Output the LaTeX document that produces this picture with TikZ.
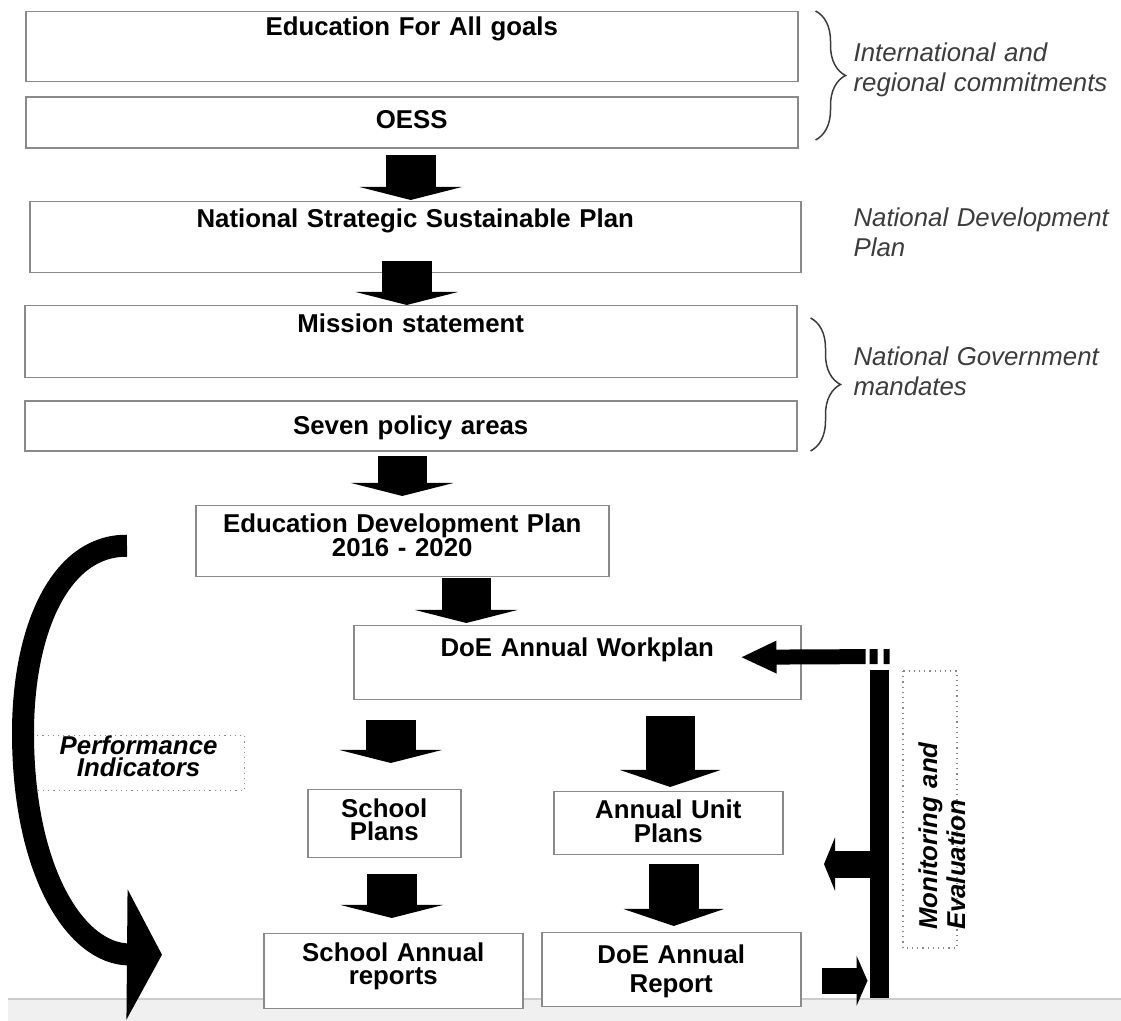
\documentclass[tikz,border=0pt]{standalone}
\usepackage{fontspec}
\setmainfont{Liberation Sans}
\usepackage{tikz}
\usetikzlibrary{arrows.meta,positioning,decorations.pathreplacing}

\definecolor{framegrey}{HTML}{8A8A8A}
\definecolor{notegrey}{HTML}{3C3C3C}
\definecolor{bandgrey}{HTML}{F0F0F0}
\definecolor{bandedge}{HTML}{CCCCCC}

\begin{document}
\begin{tikzpicture}[x=0.5pt,y=-0.5pt,semithick]
  \tikzstyle{box}=[draw=framegrey,line width=0.75pt,fill=white,inner sep=0pt,anchor=north west,align=center,font=\fontsize{12.9}{12}\selectfont\bfseries]
  \tikzstyle{note}=[anchor=base west,inner sep=0pt,text width=140pt,align=left,text=notegrey,font=\fontsize{12.9}{14.75}\selectfont\itshape]
  \tikzstyle{tag}=[draw=framegrey,dotted,line width=0.6pt,inner sep=0pt,font=\fontsize{12.9}{11}\selectfont\bfseries\itshape]
  \tikzstyle{fat}=[line width=24.75pt,-{Triangle[width=51pt,length=6.5pt]}]
  \tikzstyle{fatlong}=[line width=24.75pt,-{Triangle[width=50pt,length=8.5pt]}]
  \tikzstyle{bracket}=[decorate,decoration={brace,amplitude=15pt},line width=0.75pt,draw=notegrey]
  \useasboundingbox (0,0) rectangle (1121,1021);
  % grey strip at the foot
  \fill[bandgrey] (8,999) rectangle (1121,1021);
  \draw[bandedge,line width=1pt] (8,999) -- (1121,999);

  \node[box,text width=386pt,text height=12pt,text depth=23pt] (efa) at (25,11) {Education For All goals};
  \node[box,text width=386pt,text height=15.5pt,text depth=10pt] (oess) [below=7pt of efa] {OESS};
  \node[box,text width=385.5pt,text height=13pt,text depth=22.5pt] (nssp) at (29,201) {National Strategic Sustainable Plan};
  \node[box,text width=386pt,text height=13.5pt,text depth=22.5pt] (mission) at (24,305) {Mission statement};
  \node[box,text width=386pt,text height=16.5pt,text depth=8.5pt] (policy) [below=11pt of mission] {Seven policy areas};
  \node[box,text width=206.5pt,text height=13.5pt,text depth=22pt] (edp) at (195,505) {Education Development Plan\\2016 - 2020};
  \node[box,text width=223.5pt,text height=15.5pt,text depth=21.5pt] (workplan) at (353,625) {DoE Annual Workplan};
  \node[box,text width=76.5pt,text height=14pt,text depth=20pt,font=\fontsize{12.9}{11.5}\selectfont\bfseries] (school) at (307,789) {School\\Plans};
  \node[box,text width=114.5pt,text height=13.5pt,text depth=18pt] (unit) at (553,791) {Annual Unit\\Plans};
  \node[box,text width=129.5pt,text height=14pt,text depth=23.5pt,font=\fontsize{12.9}{11.5}\selectfont\bfseries] (sreport) at (263,933) {School Annual\\reports};
  \node[box,text width=129.5pt,text height=15.5pt,text depth=21.5pt,font=\fontsize{12.9}{14.5}\selectfont\bfseries] (dreport) at (541,932) {DoE Annual\\Report};

  % notes on the right
  \node[note] (intl) at (853,62) {International and\\regional commitments};
  \node[note] (natdev) at (853,227) {National Development\\Plan};
  \node[note] (natgov) at (853,366) {National Government\\mandates};
  \draw[bracket] ([xshift=8.5pt]efa.north east) -- ([xshift=8.5pt,yshift=4.5pt]oess.south east);
  \draw[bracket] ([xshift=6.5pt,yshift=-6.5pt]mission.north east) -- ([xshift=6.5pt,yshift=0.5pt]policy.south east);

  \node[fill=black,inner sep=0pt,minimum width=9.5pt,minimum height=164pt,anchor=north west] (bar) at (869.5,669) {};
  \node[tag,rotate=90,text width=120.5pt,inner xsep=9pt,text height=17pt,text depth=10pt,align=left,font=\fontsize{12.9}{14}\selectfont\bfseries\itshape] (monitor) at (930,809.5) {Monitoring and\\Evaluation};
  \node[tag,anchor=north west,text width=106pt,text height=9.5pt,text depth=18pt,align=center] (perf) at (32,735) {Performance\\Indicators};

  \path ([xshift=-0.5pt,yshift=-3pt]oess.south) edge[fat] ([xshift=-2.25pt,yshift=0.5pt]nssp.north)
        ([xshift=-4.25pt,yshift=6pt]nssp.south) edge[fat] ([xshift=-2pt]mission.north)
        ([xshift=-4.25pt,yshift=-2pt]policy.south) edge[fat] ([yshift=4.5pt]edp.north)
        ([xshift=32pt,yshift=-0.5pt]edp.south) edge[fat] ([xshift=-55.5pt,yshift=1pt]workplan.north)
        ([xshift=-93.25pt,yshift=-10pt]workplan.south) edge[fat] ([xshift=3.25pt,yshift=13pt]school.north)
        ([xshift=46.5pt,yshift=-8pt]workplan.south) edge[fatlong] ([xshift=1pt,yshift=2pt]unit.north)
        ([xshift=3.75pt,yshift=-8pt]school.south) edge[fat] ([xshift=-0.75pt,yshift=7.5pt]sreport.north)
        ([xshift=2.75pt,yshift=-4.5pt]unit.south) edge[fatlong] ([xshift=1.25pt,yshift=3pt]dreport.north);

  \path ([yshift=6.25pt]bar.north east) edge[line width=7.5pt,-{Triangle[width=15pt,length=18pt]},dash pattern=on 3pt off 3pt on 4pt off 2pt on 300pt] ([xshift=-30.5pt,yshift=2.75pt]workplan.east)
        ([yshift=-15.25pt]bar.west) edge[line width=13.5pt,-{Triangle[width=26.5pt,length=5.5pt]}] ([xshift=-22.75pt,yshift=-15.25pt]bar.west)
        ([xshift=10pt,yshift=-5.5pt]dreport.east) edge[line width=13pt,-{Triangle[width=25pt,length=5.5pt]}] ([xshift=33pt,yshift=-5.5pt]dreport.east);

  \draw[line width=11pt,-{Triangle[width=64.5pt,length=17.5pt]}] ([xshift=-34pt,yshift=-2.25pt]edp.west) .. controls (60,545) and (23,630) .. (23,733) .. controls (23,870) and (75,954) .. ([xshift=-50.5pt,yshift=8.25pt]sreport.west);
\end{tikzpicture}
\end{document}
